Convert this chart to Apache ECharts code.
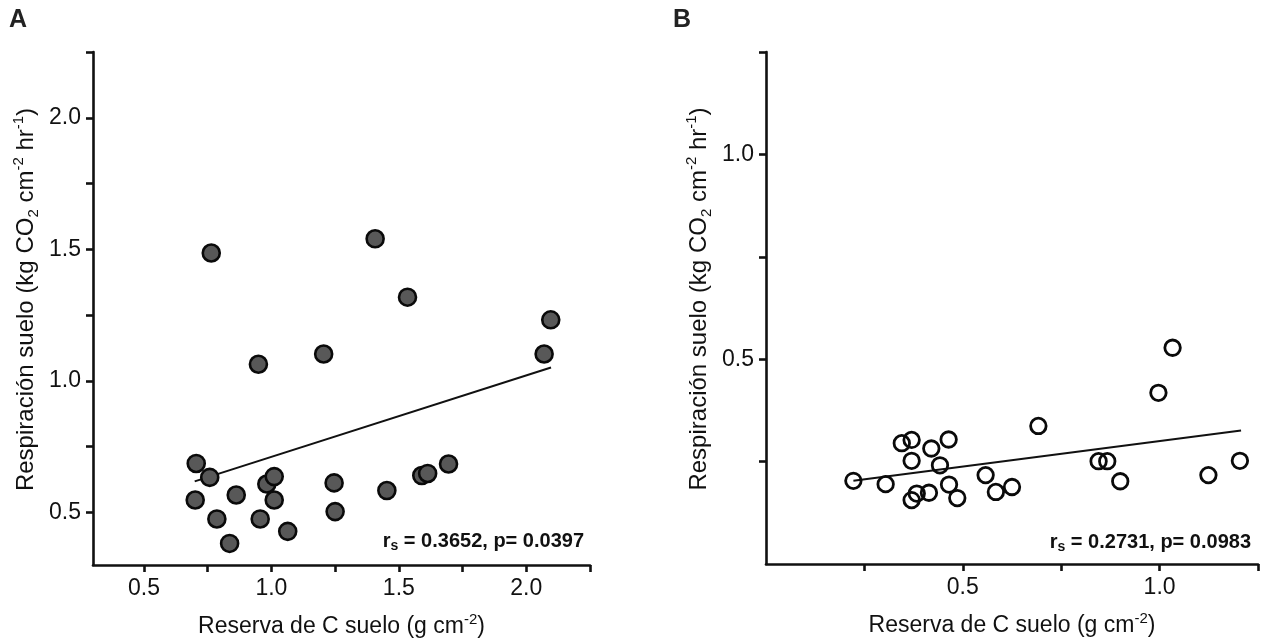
<!DOCTYPE html>
<html>
  <head>
    <meta charset="utf-8">
    <title>Respiración suelo vs Reserva de C</title>
    <style type="text/css">
    html, body {margin:0;padding:0;background:#fff;}
    #chart {width:1263px;height:641px;}
    </style>
    <script src="https://cdn.jsdelivr.net/npm/echarts@6/dist/echarts.min.js"></script>
  </head>
  <body>
    <div id="chart"></div>
    <script type="text/javascript">
      // panel A : filled circles
      var aX = [0.764, 1.407, 1.534, 0.949, 1.205, 2.070, 2.096, 0.705, 0.758, 0.701, 0.862, 0.786,
                0.836, 0.982, 1.011, 1.011, 0.956, 1.064, 1.246, 1.250, 1.453, 1.590, 1.613, 1.695];
      var aY = [1.486, 1.540, 1.318, 1.063, 1.102, 1.102, 1.232, 0.686, 0.633, 0.547, 0.566, 0.475,
                0.382, 0.608, 0.636, 0.547, 0.475, 0.428, 0.612, 0.503, 0.583, 0.640, 0.648, 0.684];
      var aFitX = [0.699, 2.097];
      var aFitY = [0.618, 1.051];

      // panel B : open circles
      var bX = [0.222, 0.304, 0.345, 0.370, 0.370, 0.370, 0.383, 0.414, 0.420, 0.464, 0.442, 0.465,
                0.486, 0.558, 0.584, 0.625, 0.692, 0.845, 0.867, 0.900, 0.997, 1.033, 1.124, 1.204];
      var bY = [0.203, 0.195, 0.295, 0.303, 0.252, 0.156, 0.172, 0.174, 0.282, 0.304, 0.241, 0.194,
                0.161, 0.217, 0.176, 0.188, 0.337, 0.251, 0.251, 0.202, 0.418, 0.528, 0.217, 0.252];
      var bFitX = [0.222, 1.207];
      var bFitY = [0.203, 0.326];

      var aTicks = [0.5, 0.75, 1.0, 1.25, 1.5, 1.75, 2.0, 2.25];
      var aLabels = [0.5, 1.0, 1.5, 2.0];
      var bTicks = [0.25, 0.5, 0.75, 1.0, 1.25];
      var bLabels = [0.5, 1.0];

      var statA = '{r|r}{s|s}{r| = 0.3652, p= 0.0397}';
      var statB = '{r|r}{s|s}{r| = 0.2731, p= 0.0983}';

      var FONT = 'Liberation Sans';

      function pairs(xs, ys) {
        return xs.map(function (x, i) { return [x, ys[i]]; });
      }

      function nameRich(size) {
        return {
          a: {fontSize: size, lineHeight: size + 6, fontFamily: FONT, color: '#111'},
          sub: {fontSize: 15, lineHeight: 14, verticalAlign: 'bottom', fontFamily: FONT, color: '#111'},
          sup: {fontSize: 15, lineHeight: 14, verticalAlign: 'top', fontFamily: FONT, color: '#111'}
        };
      }
      var yName = '{a|Respiración suelo (kg CO}{sub|2}{a| cm}{sup|-2}{a| hr}{sup|-1}{a|)}';
      var xName = '{a|Reserva de C suelo (g cm}{sup|-2}{a|)}';

      function axis(grid, min, max, ticks, labels, isX) {
        return {
          type: 'value',
          gridIndex: grid,
          min: min,
          max: max,
          name: isX ? xName : yName,
          nameLocation: 'middle',
          nameGap: isX ? 47 : 52,
          nameTextStyle: {rich: nameRich(isX ? 23 : 24), padding: isX ? 0 : [0, 0, 0, 18]},
          axisLine: {show: true, onZero: false, lineStyle: {color: '#111', width: 2.6}},
          axisTick: {show: true, length: 7, customValues: ticks, lineStyle: {color: '#111', width: 2.6}},
          axisLabel: {
            customValues: labels, margin: 12, fontSize: 23, fontFamily: FONT, color: '#111',
            formatter: function (v) { return v.toFixed(1); }
          },
          splitLine: {show: false}
        };
      }

      var statRich = {
        r: {fontSize: 20, fontWeight: 'bold', fontFamily: FONT, fill: '#111', lineHeight: 24},
        s: {fontSize: 14, fontWeight: 'bold', fontFamily: FONT, fill: '#111', lineHeight: 12, verticalAlign: 'bottom'}
      };

      var myChart = echarts.init(document.getElementById('chart'));
      var option = {
        backgroundColor: '#fff',
        animation: false,
        grid: [
          {left: 93, top: 52, width: 497, height: 513, outerBoundsMode: 'none'},
          {left: 766, top: 52, width: 492, height: 512, outerBoundsMode: 'none'}
        ],
        xAxis: [
          axis(0, 0.3, 2.25, aTicks, aLabels, true),
          axis(1, 0, 1.25, bTicks, bLabels, true)
        ],
        yAxis: [
          axis(0, 0.3, 2.25, aTicks, aLabels, false),
          axis(1, 0, 1.25, bTicks, bLabels, false)
        ],
        graphic: [
          {type: 'text', left: 9, top: 8, style: {text: 'A', fontSize: 25, fontWeight: 'bold', fontFamily: FONT, fill: '#222'}},
          {type: 'text', left: 673, top: 8, style: {text: 'B', fontSize: 25, fontWeight: 'bold', fontFamily: FONT, fill: '#222'}},
          {type: 'text', x: 584, y: 541, style: {text: statA, align: 'right', verticalAlign: 'middle', rich: statRich}},
          {type: 'text', x: 1251, y: 542, style: {text: statB, align: 'right', verticalAlign: 'middle', rich: statRich}}
        ],
        series: [
          {
            type: 'line', xAxisIndex: 0, yAxisIndex: 0, data: pairs(aFitX, aFitY),
            symbol: 'none', lineStyle: {color: '#111', width: 2}, z: 2
          },
          {
            type: 'scatter', xAxisIndex: 0, yAxisIndex: 0, data: pairs(aX, aY),
            symbolSize: 17, itemStyle: {color: '#585858', borderColor: '#0a0a0a', borderWidth: 2.6, opacity: 1}, z: 3
          },
          {
            type: 'line', xAxisIndex: 1, yAxisIndex: 1, data: pairs(bFitX, bFitY),
            symbol: 'none', lineStyle: {color: '#111', width: 2}, z: 2
          },
          {
            type: 'scatter', xAxisIndex: 1, yAxisIndex: 1, data: pairs(bX, bY),
            symbolSize: 15.5, itemStyle: {color: 'rgba(255,255,255,0)', borderColor: '#0a0a0a', borderWidth: 2.8, opacity: 1}, z: 3
          }
        ]
      };
      myChart.setOption(option);
    </script>
  </body>
</html>
